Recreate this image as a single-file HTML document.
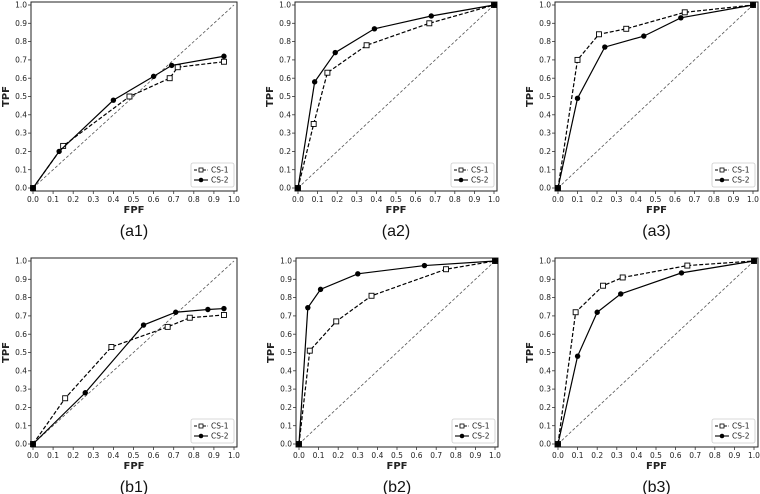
<!DOCTYPE html>
<html><head><meta charset="utf-8"><style>
html,body{margin:0;padding:0;background:#fff;}
svg{display:block;font-family:"DejaVu Sans","Liberation Sans",sans-serif;}
</style></head><body>
<svg id="fig" width="760" height="494" viewBox="0 0 760 494" xmlns="http://www.w3.org/2000/svg"></svg>
<script>
const ticks = [0,0.1,0.2,0.3,0.4,0.5,0.6,0.7,0.8,0.9,1.0];
const tickLabels = ["0.0","0.1","0.2","0.3","0.4","0.5","0.6","0.7","0.8","0.9","1.0"];
const panelNames = ["a1","a2","a3","b1","b2","b3"];
const a1cs1x=[0,0.15,0.48,0.68,0.72,0.95], a1cs1y=[0,0.23,0.50,0.60,0.66,0.69];
const a1cs2x=[0,0.13,0.40,0.60,0.69,0.95], a1cs2y=[0,0.20,0.48,0.61,0.67,0.72];
const a2cs1x=[0,0.08,0.15,0.35,0.67,1], a2cs1y=[0,0.35,0.63,0.78,0.90,1];
const a2cs2x=[0,0.085,0.19,0.39,0.68,1], a2cs2y=[0,0.58,0.74,0.87,0.94,1];
const a3cs1x=[0,0.10,0.21,0.35,0.65,1], a3cs1y=[0,0.70,0.84,0.87,0.96,1];
const a3cs2x=[0,0.10,0.24,0.44,0.63,1], a3cs2y=[0,0.49,0.77,0.83,0.93,1];
const b1cs1x=[0,0.16,0.39,0.67,0.78,0.95], b1cs1y=[0,0.25,0.53,0.64,0.69,0.705];
const b1cs2x=[0,0.26,0.55,0.71,0.87,0.95], b1cs2y=[0,0.28,0.65,0.72,0.735,0.74];
const b2cs1x=[0,0.055,0.19,0.37,0.75,1], b2cs1y=[0,0.51,0.67,0.81,0.955,1];
const b2cs2x=[0,0.045,0.11,0.30,0.64,1], b2cs2y=[0,0.745,0.845,0.93,0.975,1];
const b3cs1x=[0,0.09,0.23,0.33,0.66,1], b3cs1y=[0,0.72,0.865,0.91,0.975,1];
const b3cs2x=[0,0.10,0.20,0.32,0.63,1], b3cs2y=[0,0.48,0.72,0.82,0.935,1];

const layout=[
 {x0:33,x1:234,bl:31,br:237,y0:188,y1:5,bt:2,bb:191},
 {x0:298,x1:494,bl:295,br:497,y0:188,y1:5,bt:2,bb:191},
 {x0:558,x1:753,bl:555,br:758,y0:188,y1:5,bt:2,bb:191},
 {x0:33,x1:234,bl:31,br:237,y0:444,y1:261,bt:258,bb:447},
 {x0:299,x1:495,bl:296,br:498,y0:444,y1:261,bt:258,bb:447},
 {x0:558,x1:754,bl:555,br:758,y0:444,y1:261,bt:258,bb:447}
];
const series=[[a1cs1x,a1cs1y,a1cs2x,a1cs2y],[a2cs1x,a2cs1y,a2cs2x,a2cs2y],[a3cs1x,a3cs1y,a3cs2x,a3cs2y],
 [b1cs1x,b1cs1y,b1cs2x,b1cs2y],[b2cs1x,b2cs1y,b2cs2x,b2cs2y],[b3cs1x,b3cs1y,b3cs2x,b3cs2y]];
const NS="http://www.w3.org/2000/svg";
const svg=document.getElementById('fig');
function mk(tag,attrs,parent,text){const e=document.createElementNS(NS,tag);for(const k in attrs)e.setAttribute(k,attrs[k]);if(text!==undefined)e.textContent=text;parent.appendChild(e);return e;}
layout.forEach((L,i)=>{
  const name=panelNames[i];
  const g=mk('g',{},svg);
  
  
  const X=v=>L.x0+v*(L.x1-L.x0), Y=v=>L.y0+v*(L.y1-L.y0);
  const box=mk('rect',{x:L.bl,y:L.bt,width:L.br-L.bl,height:L.bb-L.bt,fill:'none',stroke:'#222','stroke-width':1},g);
  
  
  ticks.forEach((t,k)=>{
    mk('line',{x1:X(t),x2:X(t),y1:L.bb,y2:L.bb+3,stroke:'#333','stroke-width':0.8},g);
    const xl=mk('text',{x:X(t),y:L.bb+11,'font-size':7.5,'text-anchor':'middle',fill:'#222'},g,tickLabels[k]);
    
    
    mk('line',{x1:L.bl-3,x2:L.bl,y1:Y(t),y2:Y(t),stroke:'#333','stroke-width':0.8},g);
    const yl=mk('text',{x:L.bl-4,y:Y(t)+2.6,'font-size':7.5,'text-anchor':'end',fill:'#222'},g,tickLabels[k]);
    
    
  });
  const xt=mk('text',{x:(L.bl+L.br)/2,y:L.bb+22,'font-size':10,'font-weight':'bold','text-anchor':'middle',fill:'#222'},g,'FPF');
  
  
  const yx=L.bl-22, yy=(L.bt+L.bb)/2;
  const yt=mk('text',{x:yx,y:yy,'font-size':10,'font-weight':'bold','text-anchor':'middle',fill:'#222',transform:`rotate(-90 ${yx} ${yy})`},g,'TPF');
  
  
  const pl=mk('text',{x:(L.bl+L.br)/2,y:L.bb+45,'font-size':16,'font-family':'Liberation Sans, sans-serif','text-anchor':'middle',fill:'#111'},g,'('+name+')');
  
  
  const diag=mk('line',{x1:X(0),y1:Y(0),x2:X(1),y2:Y(1),stroke:'#555','stroke-width':0.8,'stroke-dasharray':'3,2'},g);
  
  
  const S=series[i];
  [[S[0],S[1],'cs-1',true],[S[2],S[3],'cs-2',false]].forEach(([xs,ys,nm,dash])=>{
    const pts=xs.map((v,k)=>X(v)+','+Y(ys[k])).join(' ');
    const line=mk('polyline',{points:pts,fill:'none',stroke:'#000','stroke-width':1.2,'stroke-dasharray':dash?'4,2':'none'},g);
    
    
    xs.forEach((v,k)=>{
      let m;
      if(dash) m=mk('rect',{x:X(v)-2.5,y:Y(ys[k])-2.5,width:5,height:5,fill:'#fff',stroke:'#000','stroke-width':0.9},g);
      else m=mk('circle',{cx:X(v),cy:Y(ys[k]),r:2.7,fill:'#000'},g);
      
      
    });
  });
  const lx=L.br-46, ly=L.bb-28;
  const lg=mk('g',{},g);
  
  
  mk('rect',{x:lx,y:ly,width:43,height:24,fill:'#fff',stroke:'#ccc','stroke-width':0.8,rx:2},lg);
  mk('line',{x1:lx+3,x2:lx+17,y1:ly+7,y2:ly+7,stroke:'#000','stroke-width':1.1,'stroke-dasharray':'3,1.5'},lg);
  mk('rect',{x:lx+8,y:ly+5,width:4,height:4,fill:'#fff',stroke:'#000','stroke-width':0.8},lg);
  const t1=mk('text',{x:lx+20,y:ly+9.5,'font-size':7.5,fill:'#222'},lg,'CS-1');
  
  
  mk('line',{x1:lx+3,x2:lx+17,y1:ly+17,y2:ly+17,stroke:'#000','stroke-width':1.1},lg);
  mk('circle',{cx:lx+10,cy:ly+17,r:2.3,fill:'#000'},lg);
  const t2=mk('text',{x:lx+20,y:ly+19.5,'font-size':7.5,fill:'#222'},lg,'CS-2');
  
  
});
</script>
</body></html>
